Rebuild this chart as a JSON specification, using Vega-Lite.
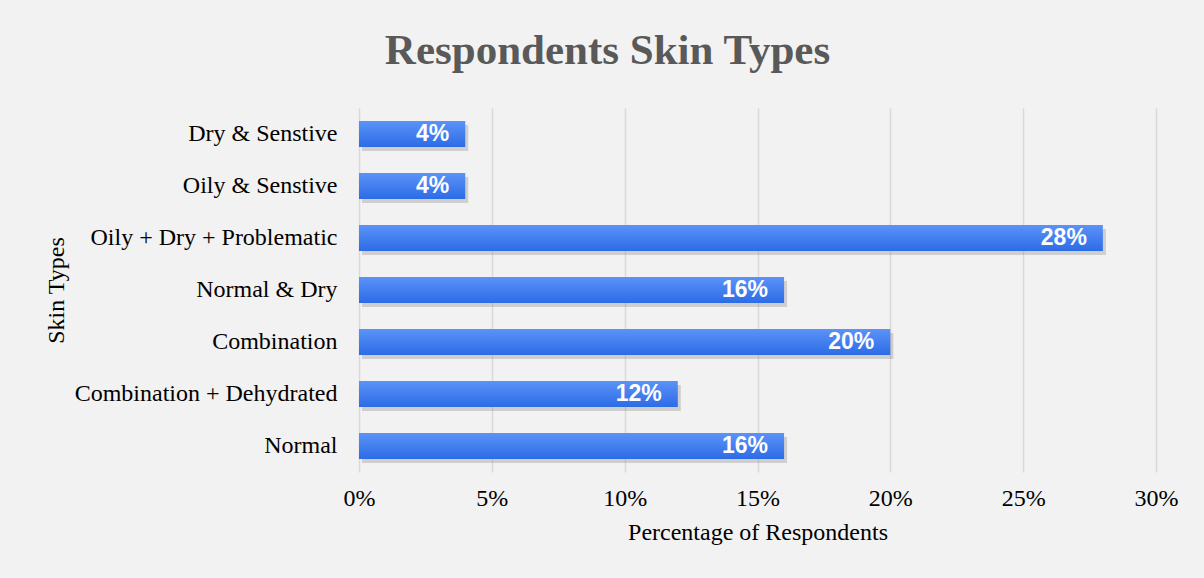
{
  "$schema": "https://vega.github.io/schema/vega-lite/v6.json",
  "autosize": {"type": "none"},
  "width": 797,
  "height": 364,
  "padding": {"left": 359, "top": 108, "right": 48, "bottom": 106},
  "background": "#f2f2f2",
  "view": {"stroke": null},
  "title": {
    "text": "Respondents Skin Types",
    "font": "Liberation Serif",
    "fontSize": 43,
    "fontWeight": "bold",
    "color": "#595959",
    "anchor": "middle",
    "frame": "group",
    "dx": -150,
    "offset": 35
  },
  "data": {
    "values": [
      {"type": "Dry & Senstive\u00a0", "pct": 0.04},
      {"type": "Oily & Senstive\u00a0", "pct": 0.04},
      {"type": "Oily + Dry + Problematic", "pct": 0.28},
      {"type": "Normal & Dry", "pct": 0.16},
      {"type": "Combination\u00a0", "pct": 0.20},
      {"type": "Combination + Dehydrated", "pct": 0.12},
      {"type": "Normal", "pct": 0.16}
    ]
  },
  "encoding": {
    "y": {
      "field": "type",
      "type": "nominal",
      "sort": null,
      "scale": {"paddingInner": 0.5, "paddingOuter": 0.25},
      "axis": {
        "title": "Skin Types",
        "titleFont": "Liberation Serif",
        "titleFontSize": 24,
        "titleFontWeight": "normal",
        "titleColor": "#000000",
        "titleX": -303,
        "titleY": 182,
        "titleAngle": -90,
        "titleAlign": "center",
        "titleBaseline": "middle",
        "labelFont": "Liberation Serif",
        "labelFontSize": 24,
        "labelColor": "#000000",
        "labelPadding": 22,
        "labelLimit": 0,
        "domain": false,
        "ticks": false,
        "grid": false
      }
    },
    "x": {
      "field": "pct",
      "type": "quantitative",
      "scale": {"domain": [0, 0.3], "nice": false},
      "axis": {
        "title": "Percentage of Respondents",
        "titleFont": "Liberation Serif",
        "titleFontSize": 24,
        "titleFontWeight": "normal",
        "titleColor": "#000000",
        "titlePadding": 10,
        "labelFont": "Liberation Serif",
        "labelFontSize": 24,
        "labelColor": "#000000",
        "labelPadding": 14,
        "labelFlush": false,
        "format": ".0%",
        "values": [0, 0.05, 0.1, 0.15, 0.2, 0.25, 0.3],
        "domain": false,
        "ticks": false,
        "grid": true,
        "gridColor": "#d9d9d9",
        "gridWidth": 1.5
      }
    }
  },
  "layer": [
    {
      "mark": {"type": "bar", "color": "#7f7f7f", "opacity": 0.3, "xOffset": 3, "yOffset": 4}
    },
    {
      "mark": {
        "type": "bar",
        "color": {
          "gradient": "linear",
          "x1": 0, "y1": 0, "x2": 0, "y2": 1,
          "stops": [
            {"offset": 0, "color": "#5b93f8"},
            {"offset": 1, "color": "#2c6ce6"}
          ]
        }
      }
    },
    {
      "mark": {
        "type": "text",
        "align": "right",
        "baseline": "middle",
        "dx": -16,
        "font": "Liberation Sans",
        "fontSize": 23,
        "fontWeight": "bold",
        "color": "#ffffff"
      },
      "encoding": {
        "text": {"field": "pct", "type": "quantitative", "format": ".0%"}
      }
    }
  ]
}
